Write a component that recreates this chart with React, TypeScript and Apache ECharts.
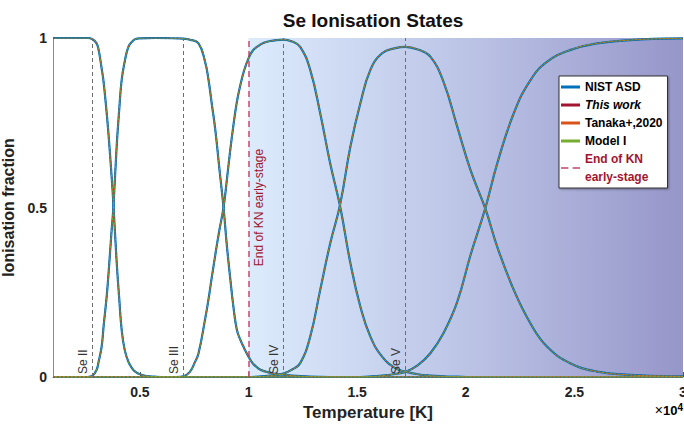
import React, { useEffect, useRef } from "react";
import * as echarts from "echarts";

const FONT = "'Liberation Sans', Arial, Helvetica, sans-serif";

// Ionisation fraction of each Se charge state against temperature [K]
const seI: [number, number][] = [
  [1000, 1], [2000, 1], [2600, 1], [2800, 0.997], [3000, 0.985], [3100, 0.965],
  [3240, 0.91], [3330, 0.87], [3470, 0.78], [3550, 0.72], [3700, 0.59], [3780, 0.51],
  [3930, 0.34], [4050, 0.23], [4160, 0.14], [4300, 0.08], [4470, 0.045], [4650, 0.025],
  [4800, 0.015], [5000, 0.008], [5300, 0.003], [5700, 0.001], [6200, 0], [30000, 0],
];

const seII: [number, number][] = [
  [1000, 0], [2600, 0], [2800, 0.003], [3000, 0.02], [3100, 0.045], [3240, 0.09],
  [3330, 0.15], [3470, 0.237], [3550, 0.3], [3700, 0.434], [3780, 0.5], [3930, 0.68],
  [4050, 0.79], [4160, 0.876], [4300, 0.93], [4470, 0.974], [4650, 0.99], [4800, 0.997],
  [5000, 0.999], [5700, 1], [6700, 0.999], [7000, 0.998], [7300, 0.995], [7700, 0.984],
  [8000, 0.93], [8160, 0.876], [8300, 0.81], [8470, 0.73], [8650, 0.62], [8850, 0.5],
  [9000, 0.39], [9160, 0.29], [9300, 0.21], [9460, 0.14], [9620, 0.11], [9800, 0.085],
  [10000, 0.06], [10200, 0.04], [10460, 0.025], [10680, 0.018], [11000, 0.012],
  [11300, 0.009], [11600, 0.007], [12000, 0.004], [12840, 0.001], [13760, 0], [30000, 0],
];

const seIII: [number, number][] = [
  [1000, 0], [6700, 0], [7000, 0.002], [7300, 0.015], [7540, 0.045], [7700, 0.07],
  [8000, 0.17], [8160, 0.23], [8300, 0.29], [8470, 0.36], [8650, 0.43], [8850, 0.5],
  [9000, 0.58], [9160, 0.67], [9300, 0.74], [9460, 0.81], [9620, 0.86], [9800, 0.905],
  [10000, 0.94], [10200, 0.963], [10460, 0.977], [10680, 0.985], [11000, 0.991],
  [11300, 0.994], [11600, 0.995], [12000, 0.99], [12380, 0.974], [12840, 0.906],
  [13300, 0.778], [13760, 0.63], [14220, 0.502], [14690, 0.336], [15150, 0.207],
  [15610, 0.119], [16150, 0.06], [16760, 0.026], [17220, 0.016], [17800, 0.008],
  [18370, 0.004], [18980, 0.002], [19600, 0.001], [20220, 0], [30000, 0],
];

const seIV: [number, number][] = [
  [1000, 0], [9800, 0], [10460, 0.001], [11000, 0.004], [11600, 0.01], [12000, 0.022],
  [12380, 0.041], [12840, 0.119], [13300, 0.257], [13760, 0.394], [14220, 0.51],
  [14690, 0.68], [15150, 0.808], [15610, 0.906], [16150, 0.955], [16760, 0.97],
  [17220, 0.974], [17800, 0.966], [18370, 0.945], [18980, 0.87], [19600, 0.74],
  [20220, 0.61], [20910, 0.495], [21450, 0.384], [22210, 0.257], [22980, 0.158],
  [23750, 0.089], [24830, 0.04], [26050, 0.016], [27590, 0.006], [29000, 0.003], [30000, 0.002],
];

const seV: [number, number][] = [
  [1000, 0], [15150, 0], [16150, 0.004], [16760, 0.009], [17220, 0.015], [17800, 0.035],
  [18370, 0.07], [18980, 0.13], [19600, 0.22], [20220, 0.36], [20910, 0.5], [21450, 0.63],
  [22210, 0.778], [22980, 0.876], [23750, 0.93], [24830, 0.965], [26050, 0.984],
  [27590, 0.994], [29000, 0.998], [30000, 0.999],
];

const chargeStates = [seI, seII, seIII, seIV, seV];

// Peak temperature of each intermediate ion, marked by a grey dashed line
const stateMarkerTemps = [2800, 7000, 11600, 17200];
const stateMarkerLabels = ["Se II", "Se III", "Se IV", "Se V"];

const knEarlyStageEnd = 10000;
const KN_LABEL = "End of KN\nearly-stage";

const tMin = 1000;
const tMax = 30000;
const xTickValues = [5000, 10000, 15000, 20000, 25000, 30000];

// Drawing order: later entries sit on top
const models = [
  { name: "This work", color: "#A2142F", width: 1.2, type: "solid" as any, offset: 0 },
  { name: "NIST ASD", color: "#0072BD", width: 2.2, type: "solid" as any, offset: 0 },
  { name: "Tanaka+,2020", color: "#D95319", width: 1.0, type: [2, 2], offset: 0 },
  { name: "Model I", color: "#77AC30", width: 1.0, type: [2, 2], offset: 2 },
];

export default function App() {
  const ref = useRef<HTMLDivElement>(null);

  useEffect(() => {
    if (!ref.current) return;
    const chart = echarts.init(ref.current, undefined, { renderer: "svg" });

    const curveSeries: any[] = [];
    models.forEach((m) => {
      chargeStates.forEach((state) => {
        curveSeries.push({
          type: "line",
          name: m.name,
          data: state,
          showSymbol: false,
          symbol: "none",
          smooth: 0.45,
          z: 3,
          itemStyle: { color: m.color },
          lineStyle: { color: m.color, width: m.width, type: m.type, dashOffset: m.offset },
          emphasis: { disabled: true },
          silent: true,
        });
      });
    });

    const markerSeries = {
      type: "line",
      name: KN_LABEL,
      data: [],
      z: 1,
      silent: true,
      itemStyle: { color: "rgba(196,80,112,0.8)" },
      lineStyle: { color: "rgba(196,80,112,0.8)" },
      markArea: {
        silent: true,
        itemStyle: {
          color: new echarts.graphic.LinearGradient(0, 0, 1, 0, [
            { offset: 0, color: "#dcebfc" },
            { offset: 0.5, color: "#bcc4e6" },
            { offset: 1, color: "#9696c9" },
          ]),
        },
        data: [[{ xAxis: knEarlyStageEnd, yAxis: 0 }, { xAxis: tMax, yAxis: 1 }]],
      },
      markLine: {
        silent: true,
        symbol: ["none", "none"],
        animation: false,
        data: [
          ...stateMarkerTemps.map((t, i) => ({
            xAxis: t,
            lineStyle: { color: "#6e6e6e", width: 1, type: [4, 3] },
            label: {
              show: true,
              formatter: stateMarkerLabels[i],
              position: "insideStartTop",
              distance: 3,
              color: "#333",
              fontFamily: FONT,
              fontSize: 12,
            },
          })),
          {
            xAxis: knEarlyStageEnd,
            lineStyle: { color: "rgba(190,60,95,0.85)", width: 1.6, type: [6, 4] },
            label: {
              show: true,
              formatter: "End of KN early-stage",
              position: "insideMiddleBottom",
              distance: 4,
              color: "#A2142F",
              fontFamily: FONT,
              fontSize: 12,
            },
          },
        ],
      },
    };

    chart.setOption({
      animation: false,
      backgroundColor: "#ffffff",
      title: {
        text: "Se Ionisation States",
        left: 368,
        top: 6,
        textAlign: "center",
        textStyle: { fontFamily: FONT, fontWeight: "bold", fontSize: 19, color: "#111" },
      },
      grid: { left: 53, right: 1, top: 38, bottom: 50, outerBoundsMode: "none", containLabel: false },
      legend: {
        orient: "vertical",
        left: 559,
        top: 76,
        selectedMode: false,
        icon: "rect",
        itemWidth: 19,
        itemHeight: 3,
        itemGap: 0,
        padding: [2, 5, 2, 2],
        backgroundColor: "#ffffff",
        borderColor: "#333",
        borderWidth: 1,
        shadowColor: "rgba(0,0,0,0.35)",
        shadowBlur: 2,
        shadowOffsetX: 1,
        shadowOffsetY: 1,
        itemStyle: { borderWidth: 0 },
        textStyle: { fontFamily: FONT, fontWeight: "bold", fontSize: 12, color: "#000", lineHeight: 18 },
        data: [
          { name: "NIST ASD" },
          { name: "This work", textStyle: { fontStyle: "italic" } },
          { name: "Tanaka+,2020" },
          { name: "Model I" },
          {
            name: KN_LABEL,
            icon: "path://M0,0H7V2H0Z M11,0H18V2H11Z",
            textStyle: { color: "#A2142F" },
          },
        ],
      },
      xAxis: {
        type: "value",
        min: tMin,
        max: tMax,
        name: "Temperature [K]",
        nameLocation: "middle",
        nameGap: 25,
        nameTextStyle: { fontFamily: FONT, fontWeight: "bold", fontSize: 17, color: "#222" },
        axisLine: { show: true, lineStyle: { color: "#8a8a8a", width: 1 } },
        axisTick: {
          show: true,
          inside: true,
          length: 5,
          customValues: xTickValues,
          lineStyle: { color: "#555" },
        },
        axisLabel: {
          customValues: xTickValues,
          formatter: (v: number) => String(v / 10000),
          fontFamily: FONT,
          fontWeight: "bold",
          fontSize: 14,
          color: "#222",
          margin: 8,
        },
        splitLine: { show: false },
      },
      yAxis: {
        type: "value",
        min: 0,
        max: 1,
        interval: 0.5,
        name: "Ionisation fraction",
        nameLocation: "middle",
        nameGap: 35,
        nameTextStyle: { fontFamily: FONT, fontWeight: "bold", fontSize: 16, color: "#222" },
        axisLine: { show: true, lineStyle: { color: "#8a8a8a", width: 1 } },
        axisTick: { show: false },
        axisLabel: { fontFamily: FONT, fontWeight: "bold", fontSize: 14, color: "#222", margin: 6 },
        splitLine: { show: false },
      },
      graphic: [
        {
          type: "text",
          right: 1,
          top: 402,
          style: {
            text: "{x|×}{b|10}{s|4}",
            rich: {
              x: { fontFamily: FONT, fontSize: 14, color: "#666" },
              b: { fontFamily: FONT, fontSize: 13, fontWeight: "bold", color: "#222" },
              s: { fontFamily: FONT, fontSize: 10, fontWeight: "bold", color: "#222", verticalAlign: "top", padding: [0, 0, 6, 0] },
            },
          },
        },
      ],
      series: [markerSeries, ...curveSeries],
    });

    return () => chart.dispose();
  }, []);

  return <div ref={ref} style={{ width: 684, height: 427, position: "absolute", left: 0, top: 0 }} />;
}
